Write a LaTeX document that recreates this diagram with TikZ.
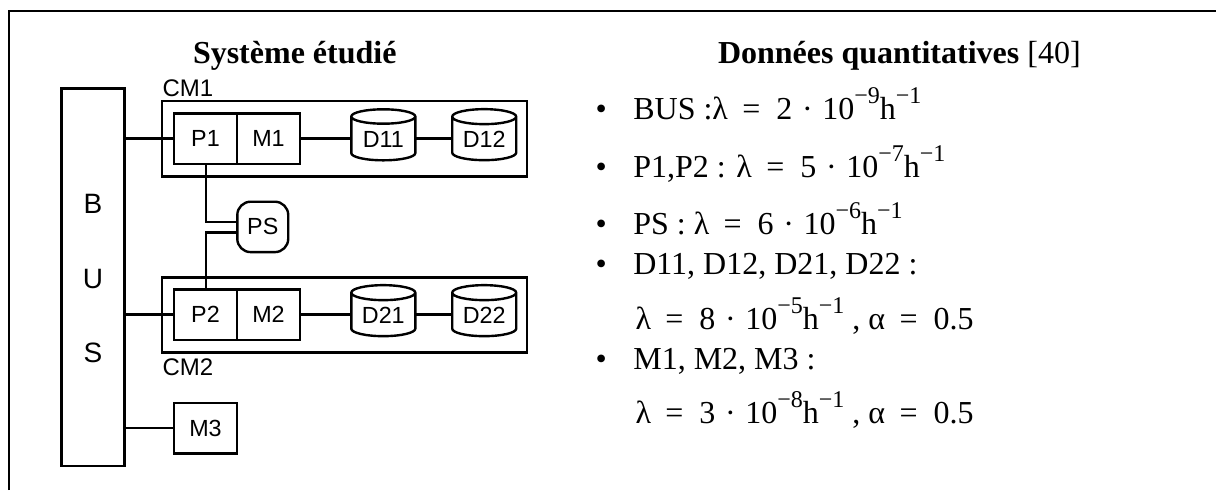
\documentclass[tikz,border=0pt]{standalone}
\usepackage{fontspec}
\setmainfont{Liberation Serif}
\newfontfamily\arialf{Liberation Sans}
\usetikzlibrary{shapes.geometric}
\newcommand{\supr}[1]{\raisebox{0.5em}{\fontsize{18}{21}\selectfont #1}}
\newcommand{\eqs}{\hspace{0.45em}=\hspace{0.5em}}
\newcommand{\dotsp}{\hspace{0.3em}·\hspace{0.3em}}
\newcommand{\boxt}[1]{\raisebox{-1pt}{#1}}
\newcommand{\diskt}[1]{\raisebox{-3pt}{#1}}
\tikzset{
  x=0.75pt,y=-0.75pt,
  line/.style={line width=1.8pt},
  frameline/.style={line width=1.9pt},
  box/.style={draw,line width=1.8pt,inner sep=0pt,outer sep=0pt,font=\arialf\fontsize{17.5}{20}\selectfont},
  disk/.style={draw,line width=1.8pt,inner sep=0pt,outer sep=0pt,cylinder,shape border rotate=90,aspect=0.35,minimum width=48pt,minimum height=38.25pt,font=\arialf\fontsize{17.5}{20}\selectfont},
  sans/.style={inner sep=0pt,outer sep=0pt,anchor=base west,font=\arialf\fontsize{18}{21}\selectfont},
  bigsans/.style={inner sep=0pt,outer sep=0pt,anchor=base,font=\arialf\fontsize{21}{25}\selectfont},
  txt/.style={inner sep=0pt,outer sep=0pt,anchor=base west,font=\fontsize{24}{28}\selectfont},
}
\begin{document}
\begin{tikzpicture}
\useasboundingbox (0,0) rectangle (1216,490);
\coordinate (ftl) at (9,11);
\coordinate (fbl) at (9,490);
\coordinate (ftr) at (1216,11);
\draw[frameline] (fbl) -- (ftl) -- (ftr);

\node[box,minimum width=47.2pt,minimum height=283pt,anchor=north west] (bus) at (61.4,88.5) {};
\node[bigsans] (b) at (93,213) {B};
\node[bigsans] (u) at (93,288) {U};
\node[bigsans] (s) at (93,362.7) {S};

\node[box,minimum width=273.9pt,minimum height=56.6pt,anchor=north west] (cm1) at (161.8,101) {};
\node[box,minimum width=273.9pt,minimum height=56.25pt,anchor=north west] (cm2) at (161.8,277.3) {};
\node[sans] (cm1t) at (162.5,96) {CM1};
\node[sans] (cm2t) at (162.5,375) {CM2};

\node[box,minimum width=47.25pt,minimum height=38pt,anchor=north west] (p1) at (174,113.3) {\boxt{P1}};
\node[box,minimum width=47.25pt,minimum height=38pt,anchor=north west] (m1) at (237,113.3) {\boxt{M1}};
\node[box,minimum width=47.25pt,minimum height=38pt,anchor=north west] (p2) at (174,289.3) {\boxt{P2}};
\node[box,minimum width=47.25pt,minimum height=38pt,anchor=north west] (m2) at (237,289.3) {\boxt{M2}};
\node[box,minimum width=47.25pt,minimum height=38pt,anchor=north west] (m3) at (174,402.7) {\boxt{M3}};

\node[disk] (d11) at (383.3,139) {\diskt{D11}};
\node[disk] (d12) at (484.2,139) {\diskt{D12}};
\node[disk] (d21) at (383.3,315) {\diskt{D21}};
\node[disk] (d22) at (484.2,315) {\diskt{D22}};

\node[box,rounded corners=10pt,minimum width=38.2pt,minimum height=37.8pt,anchor=north west] (ps) at (237.3,201.7) {PS};

\coordinate (psu) at (237.3,221.7);
\coordinate (psd) at (237.3,232.3);
\coordinate (p1d) at (205.7,164.3);
\coordinate (p2u) at (205.7,289.3);

\draw[line] (bus.east |- p1.west) -- (p1.west);
\draw[line] (bus.east |- p2.west) -- (p2.west);
\draw[line] (bus.east |- m3.west) -- (m3.west);
\draw[line] (m1.east) -- (d11.west |- m1.east);
\draw[line] (d11.east |- m1.east) -- (d12.west |- m1.east);
\draw[line] (m2.east) -- (d21.west |- m2.east);
\draw[line] (d21.east |- m2.east) -- (d22.west |- m2.east);
\draw[line] (p1d) |- (psu);
\draw[line] (p2u) |- (psd);

\node[txt,font=\bfseries\fontsize{24}{28}\selectfont] (t1) at (193,63) {Système étudié};
\node[txt] (t2) at (718,63) {\textbf{Données quantitatives} [40]};

\node[txt] (b1) at (595.5,119.3) {•};
\node[txt] (l1) at (633.3,119.3) {BUS :λ\eqs 2\dotsp 10\supr{−9}h\supr{−1}};
\node[txt] (b2) at (595.5,177.3) {•};
\node[txt] (l2) at (633.3,177.3) {P1,P2 : λ\eqs 5\dotsp 10\supr{−7}h\supr{−1}};
\node[txt] (b3) at (595.5,234.3) {•};
\node[txt] (l3) at (633.3,234.3) {PS : λ\eqs 6\dotsp 10\supr{−6}h\supr{−1}};
\node[txt] (b4) at (595.5,274.2) {•};
\node[txt] (l4) at (633.3,274.2) {D11, D12, D21, D22 :};
\node[txt] (l5) at (635.5,329.3) {λ\eqs 8\dotsp 10\supr{−5}h\supr{−1}\hspace{0.25em}, α\eqs 0.5};
\node[txt] (b6) at (595.5,369.3) {•};
\node[txt] (l6) at (633.3,369.3) {M1, M2, M3 :};
\node[txt] (l7) at (635.5,423.3) {λ\eqs 3\dotsp 10\supr{−8}h\supr{−1}\hspace{0.25em}, α\eqs 0.5};
\end{tikzpicture}
\end{document}
